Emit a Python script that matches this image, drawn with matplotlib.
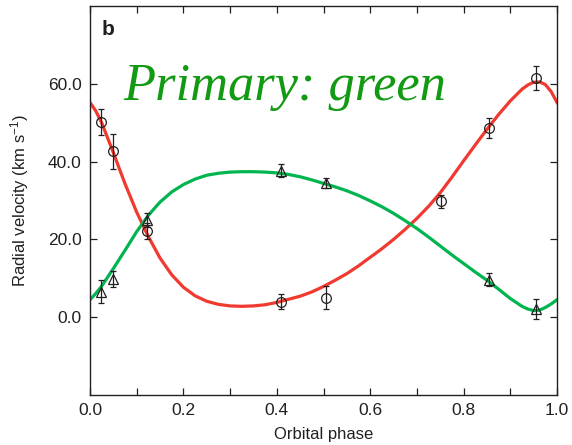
import matplotlib
matplotlib.use("Agg")
import matplotlib.pyplot as plt
from matplotlib.ticker import MultipleLocator

# measured points
phase_circ = [0.024, 0.049, 0.123, 0.408, 0.505, 0.751, 0.855, 0.954]
rv_circ = [50.2, 42.6, 22.1, 4.0, 5.0, 29.8, 48.6, 61.5]
err_circ = [3.4, 4.4, 2.0, 1.9, 3.0, 1.6, 2.6, 3.0]

phase_tri = [0.023, 0.049, 0.123, 0.408, 0.505, 0.855, 0.954]
rv_tri = [6.6, 9.8, 25.0, 37.7, 34.5, 9.6, 2.1]
err_tri = [3.0, 2.0, 1.7, 1.7, 1.4, 1.7, 2.6]

# fitted curves
phase_fit = [0.000, 0.0125, 0.025, 0.050, 0.075, 0.100, 0.125, 0.150, 0.175, 0.200, 0.225,
             0.250, 0.275, 0.300, 0.325, 0.350, 0.375, 0.400, 0.425, 0.450, 0.475,
             0.500, 0.525, 0.550, 0.575, 0.600, 0.625, 0.650, 0.675, 0.700, 0.725,
             0.750, 0.775, 0.800, 0.825, 0.850, 0.875, 0.900, 0.925, 0.9375, 0.950,
             0.9625, 0.975, 0.9875, 1.000]
rv_red = [55.2, 53.0, 50.0, 42.3, 34.3, 27.0, 20.7, 15.2, 10.9, 7.7, 5.5,
          4.1, 3.3, 2.9, 2.8, 2.9, 3.2, 3.8, 4.6, 5.4, 6.5,
          7.9, 9.5, 11.2, 13.2, 15.4, 17.6, 20.0, 22.6, 25.4, 28.5,
          32.0, 36.0, 40.2, 44.3, 48.3, 52.1, 55.6, 58.6, 59.7, 60.4,
          60.5, 59.8, 58.0, 55.2]
rv_green = [4.5, 6.1, 8.0, 12.5, 17.2, 22.0, 26.2, 29.6, 32.2, 34.1, 35.5,
            36.5, 37.0, 37.3, 37.4, 37.4, 37.3, 37.1, 36.7, 36.1, 35.3,
            34.4, 33.5, 32.5, 31.3, 29.9, 28.4, 26.7, 24.8, 22.8, 20.6,
            18.3, 16.0, 13.8, 11.6, 9.5, 7.2, 4.8, 2.8, 2.1, 1.7,
            1.8, 2.5, 3.4, 4.5]

plt.rcParams['font.family'] = ['Liberation Sans', 'DejaVu Sans']
plt.rcParams['mathtext.default'] = 'regular'
ink = '#231f20'

fig = plt.figure(figsize=(5.72, 4.45), dpi=100)
ax = fig.add_axes([90/572, 50/445, 467/572, 389/445])

ax.plot(phase_fit, rv_red, color='#f0392f', lw=2.3, zorder=2)
ax.plot(phase_fit, rv_green, color='#00b450', lw=2.3, zorder=2)

ax.errorbar(phase_circ, rv_circ, yerr=err_circ, fmt='o', mfc='none', mec=ink, ms=7,
            mew=0.9, ecolor=ink, elinewidth=0.9, capsize=2.5, capthick=0.9, zorder=3)
ax.errorbar(phase_tri, rv_tri, yerr=err_tri, fmt='^', mfc='none', mec=ink, ms=7,
            mew=0.9, ecolor=ink, elinewidth=0.9, capsize=2.5, capthick=0.9, zorder=3)

ax.set_xlim(0, 1)
ax.set_ylim(-20, 80)
ax.set_xticks([0, 0.2, 0.4, 0.6, 0.8, 1.0])
ax.set_xticklabels(['0.0', '0.2', '0.4', '0.6', '0.8', '1.0'])
ax.xaxis.set_minor_locator(MultipleLocator(0.1))
ax.set_yticks([0, 20, 40, 60])
ax.set_yticklabels(['0.0', '20.0', '40.0', '60.0'])
ax.tick_params(which='both', direction='in', top=True, right=True, length=5,
               width=0.9, color=ink, labelsize=12.5, labelcolor=ink, pad=6)
for s in ax.spines.values():
    s.set_color(ink)
    s.set_linewidth(1.0)

ax.set_xlabel('Orbital phase', fontsize=12, color=ink, labelpad=6)
ax.set_ylabel('Radial velocity (km s$^{-1}$)', fontsize=12, color=ink, labelpad=12)

ax.text(0.025, 0.965, 'b', transform=ax.transAxes, fontsize=15, fontweight='bold',
        color=ink, va='top', ha='left')
ax.text(123, 345, 'Primary: green', transform=None, fontsize=37.8, style='italic',
        family='Liberation Serif', color='#129a12', va='baseline', ha='left')

fig.savefig('out.png', dpi=100)
